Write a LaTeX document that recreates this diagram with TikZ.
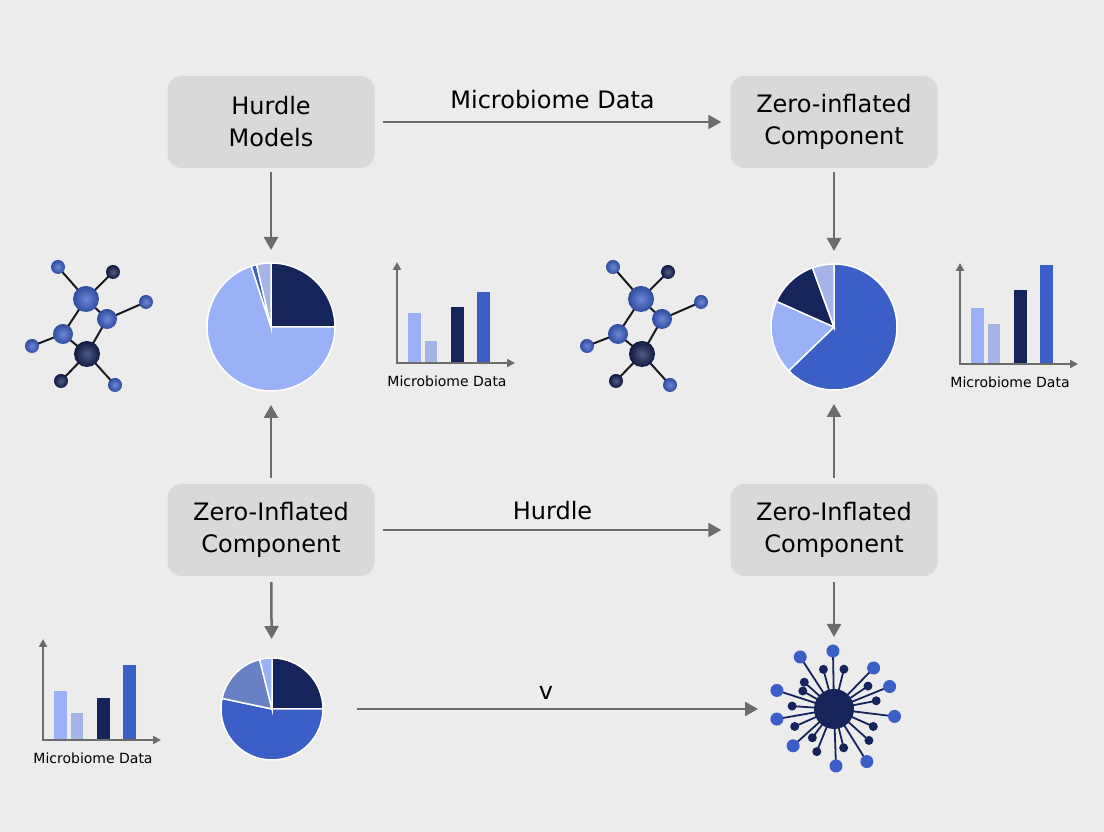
\documentclass[tikz,border=0pt]{standalone}
\usepackage{fontspec}
\setmainfont{DejaVu Sans}
\usetikzlibrary{arrows.meta, positioning, calc}
\definecolor{bggrey}{RGB}{236,236,236}
\definecolor{boxgrey}{RGB}{217,217,217}
\definecolor{arrgrey}{RGB}{108,108,108}
\definecolor{mynavy}{RGB}{22,36,92}
\definecolor{midblue}{RGB}{59,95,199}
\definecolor{lightblue}{RGB}{154,176,247}
\definecolor{paleblue}{RGB}{165,180,230}
\definecolor{slateblue}{RGB}{106,128,196}
\definecolor{bondgrey}{RGB}{25,25,35}
\tikzset{
  block/.style={rectangle, fill=boxgrey, minimum width=207pt, minimum height=92pt,
    rounded corners=14pt, align=center, font=\fontsize{24}{32}\selectfont},
  arrow/.style={-{Triangle[length=13pt,width=14pt]}, line width=2.5pt, color=arrgrey},
  axis/.style={-{Triangle[length=8pt,width=8pt]}, line width=2pt, color=arrgrey},
  arrlabel/.style={font=\fontsize{24}{28}\selectfont, text=black},
  chartlabel/.style={font=\fontsize{14}{16}\selectfont},
  pienode/.style={circle, inner sep=0pt, outer sep=0pt},
  slice/.style={draw=white, line width=1.5pt},
  blueatom/.style={circle, inner sep=0pt, inner color=midblue!75!white, outer color=midblue!80!black},
  navyatom/.style={circle, inner sep=0pt, inner color=mynavy!75!white, outer color=mynavy!70!black},
  bond/.style={line width=2pt, color=bondgrey}
}
% one wedge of a pie: centre, radius, from, to, colour
\newcommand{\pieslice}[5]{%
  \filldraw[slice, fill=#5] (#1) -- ++(#3:#2pt) arc[start angle=#3, end angle=#4, radius=#2pt] -- cycle;}
% small bar chart: origin, four bar heights, label name
\newcommand{\barchart}[6]{%
  \begin{scope}[shift={(#1)}]
    \fill[lightblue] (11,0) rectangle (24,#2);
    \fill[paleblue] (28,0) rectangle (40,#3);
    \fill[mynavy] (54,0) rectangle (67,#4);
    \fill[midblue] (80,0) rectangle (93,#5);
    \draw[axis] (0,-1) -- (0,101);
    \draw[axis] (-1,0) -- (118,0);
    \node[chartlabel] (#6) at (50,-18) {Microbiome Data};
  \end{scope}}

\begin{document}
\begin{tikzpicture}[x=1pt, y=1pt]
    \fill[bggrey] (0,0) rectangle (1104,832);
    \useasboundingbox (0,0) rectangle (1104,832);

    % Boxes
    \node[block] (hurdle) at (271,710) {Hurdle\\Models};
    \node[block] (zitop) at (834,710) {Zero-inflated\\Component};
    \node[block] (zileft) at (271,302) {Zero-Inflated\\Component};
    \node[block] (ziright) at (834,302) {Zero-Inflated\\Component};

    % Pies
    \node[pienode, minimum size=128pt] (pieA) at (271,505) {};
    \pieslice{pieA.center}{64}{90}{0}{mynavy}
    \pieslice{pieA.center}{64}{0}{-252}{lightblue}
    \pieslice{pieA.center}{64}{108}{103}{midblue}
    \pieslice{pieA.center}{64}{103}{90}{paleblue}

    \node[pienode, minimum size=126pt] (pieB) at (834,505) {};
    \pieslice{pieB.center}{63}{90}{-136}{midblue}
    \pieslice{pieB.center}{63}{224}{156}{lightblue}
    \pieslice{pieB.center}{63}{156}{110}{mynavy}
    \pieslice{pieB.center}{63}{110}{90}{paleblue}

    \node[pienode, minimum size=102pt] (pieC) at (272,123) {};
    \pieslice{pieC.center}{51}{90}{0}{mynavy}
    \pieslice{pieC.center}{51}{0}{-192}{midblue}
    \pieslice{pieC.center}{51}{168}{104}{slateblue}
    \pieslice{pieC.center}{51}{104}{90}{lightblue}

    % Bar charts
    \barchart{397,469}{50}{22}{56}{71}{dataA}
    \barchart{960,468}{56}{40}{74}{99}{dataB}
    \barchart{43,92}{49}{27}{42}{75}{dataC}

    % Molecules
    \foreach \dx in {0,555} {
      \begin{scope}[shift={(\dx,0)}]
        \draw[bond] (58,565) -- (86,533) -- (113,560);
        \draw[bond] (86,533) -- (107,513) -- (146,530);
        \draw[bond] (107,513) -- (87,478) -- (63,498) -- (86,533);
        \draw[bond] (63,498) -- (32,486);
        \draw[bond] (61,451) -- (87,478) -- (115,447);
        \node[blueatom, minimum size=14pt] at (58,565) {};
        \node[navyatom, minimum size=14pt] at (113,560) {};
        \node[blueatom, minimum size=26pt] at (86,533) {};
        \node[blueatom, minimum size=14pt] at (146,530) {};
        \node[blueatom, minimum size=20pt] at (107,513) {};
        \node[blueatom, minimum size=20pt] at (63,498) {};
        \node[blueatom, minimum size=14pt] at (32,486) {};
        \node[navyatom, minimum size=26pt] at (87,478) {};
        \node[navyatom, minimum size=14pt] at (61,451) {};
        \node[blueatom, minimum size=14pt] at (115,447) {};
      \end{scope}
    }

    % Starburst
    \node[pienode, minimum size=130pt] (burst) at (834,123) {};
    \foreach \a/\r in {22/60,46/57,91/58,123/62,162/60,190/58,222/55,272/57,302/62,353/61} {
      \draw[line width=1.8pt, mynavy] (burst.center) -- ++(\a:\r pt);
      \fill[midblue] ($(burst.center)+(\a:\r pt)$) circle (6.5pt);
    }
    \foreach \a/\r in {105/41,76/41,138/40,150/36,34/41,11/43,176/42,336/43,204/43,318/47,233/36,284/40,248/46} {
      \draw[line width=1.8pt, mynavy] (burst.center) -- ++(\a:\r pt);
      \fill[mynavy] ($(burst.center)+(\a:\r pt)$) circle (4.5pt);
    }
    \fill[mynavy] (burst.center) circle (20pt);

    % Arrows
    \draw[arrow, shorten <=8pt, shorten >=9pt] (hurdle) -- node[arrlabel, above=9pt] {Microbiome Data} (zitop);
    \draw[arrow, shorten <=4pt, shorten >=13pt] (hurdle) -- (pieA);
    \draw[arrow, shorten <=4pt, shorten >=13pt] (zitop) -- (pieB);
    \draw[arrow, shorten <=6pt, shorten >=14pt] (zileft) -- (pieA);
    \draw[arrow, shorten <=6pt, shorten >=14pt] (ziright) -- (pieB);
    \draw[arrow, shorten <=8pt, shorten >=9pt] (zileft) -- node[arrlabel, above=6pt] {Hurdle} (ziright);
    \draw[arrow, shorten <=6pt, shorten >=19pt] (zileft) -- (pieC);
    \draw[arrow, shorten <=6pt, shorten >=7pt] (ziright) -- (burst);
    \draw[arrow, shorten <=34pt, shorten >=11pt] (pieC) -- node[arrlabel, above=5pt] {v} (burst);
  \end{tikzpicture}
\end{document}
